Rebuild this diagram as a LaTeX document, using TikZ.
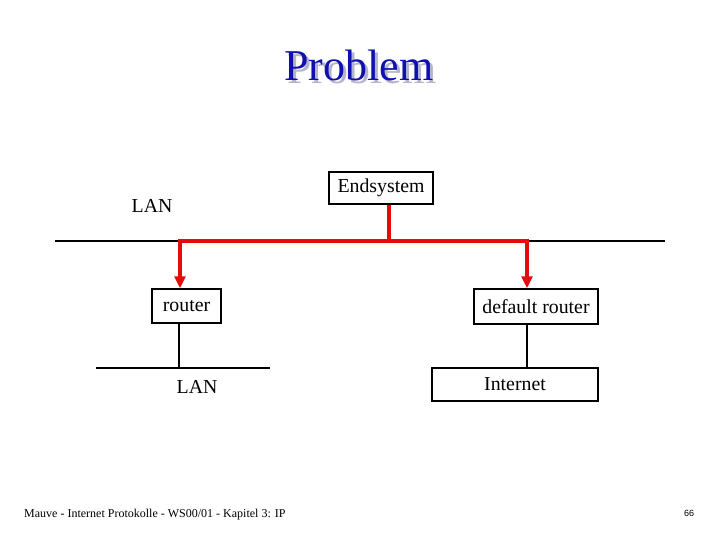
\documentclass[tikz,border=0pt]{standalone}
\usepackage{fontspec}
\setmainfont{Liberation Serif}
\setsansfont{Liberation Sans}
\usetikzlibrary{arrows.meta}
\definecolor{titleblue}{RGB}{16,16,176}
\definecolor{shadowgray}{RGB}{180,180,205}
\definecolor{netred}{RGB}{230,10,10}
\begin{document}
\begin{tikzpicture}[x=1pt,y=-1pt,
  box/.style={draw=black,line width=1.5pt,inner sep=0pt,font=\fontsize{19.8}{22}\selectfont},
  lbl/.style={inner sep=0pt,font=\fontsize{19.8}{22}\selectfont},
  net/.style={line width=1.8pt,black},
  red path/.style={line width=4pt,netred},
  redarrow/.style={red path,-{Triangle[length=12pt,width=11pt]}}]
\useasboundingbox (0,0) rectangle (720,540);
% title with shadow
\node[font=\fontsize{44}{46}\selectfont,text=shadowgray] (tshadow) at (362,68) {Problem};
\node[font=\fontsize{44}{46}\selectfont,text=titleblue] (title) at (359,65) {Problem};
% nodes
\node[box,minimum width=104pt,minimum height=32pt] (end) at (381,188) {Endsystem};
\node[box,minimum width=69pt,minimum height=34pt] (router) at (186.5,306) {router};
\node[box,minimum width=124pt,minimum height=35pt] (drouter) at (536,306.5) {default router};
\node[box,minimum width=166pt,minimum height=33pt] (inet) at (515,384.5) {Internet};
\node[lbl] (lan1) at (152,206) {LAN};
\node[lbl] (lan2) at (197,387) {LAN};
% LAN lines
\coordinate (l1a) at (55,241);
\coordinate (l1b) at (665,241);
\coordinate (l2a) at (96,368);
\coordinate (l2b) at (270,368);
\draw[net] (l1a) -- (l1b);
\draw[net] (l2a) -- (l2b);
\draw[net] (179,0 |- router.south) -- (179,368);
\draw[net] (527,0 |- drouter.south) -- (527,0 |- inet.north);
% red paths
\coordinate (junc) at (389,241);
\coordinate (jl) at (180,241);
\coordinate (jr) at (527,241);
\draw[red path] (389,0 |- end.south) -- (junc);
\draw[red path,line cap=rect] (jl) -- (jr);
\draw[redarrow] (jl) -- (180,0 |- router.north);
\draw[redarrow] (jr) -- (527,0 |- drouter.north);
% footer
\node[anchor=west,inner sep=0pt,font=\fontsize{12}{14}\selectfont] (foot) at (24,515) {Mauve - Internet Protokolle - WS00/01 - Kapitel 3: IP};
\node[inner sep=0pt,font=\sffamily\fontsize{9}{10}\selectfont] (page) at (689,513) {66};
\end{tikzpicture}
\end{document}
